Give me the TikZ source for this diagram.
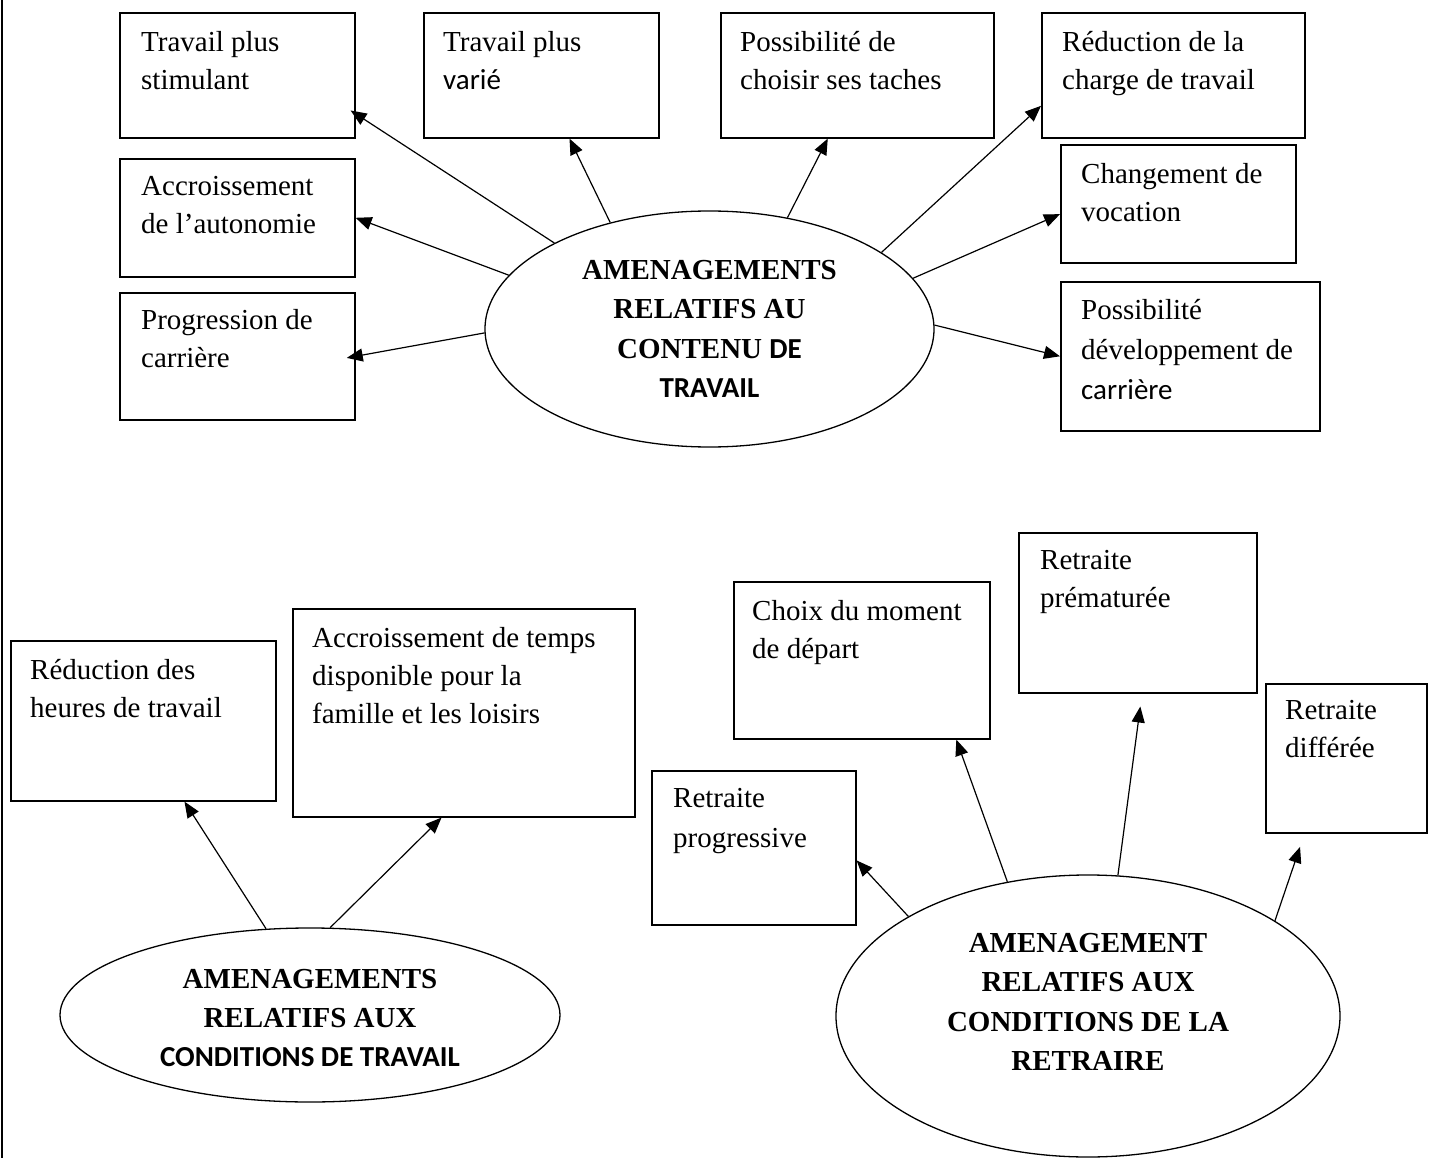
\documentclass[tikz,border=0pt]{standalone}
\usepackage{fontspec}
\setmainfont{Liberation Serif}
\newfontfamily\calib{Carlito}
\usetikzlibrary{arrows.meta,shapes.geometric}

\tikzset{
  box/.style={draw, line width=1.6pt, anchor=north west, inner sep=0pt},
  boxtxt/.style={anchor=north west, inner sep=0pt, align=left, yshift=18.6pt,
    font=\fontsize{29}{38}\selectfont, execute at begin node=\strut},
  hub/.style={draw, ellipse, line width=1.3pt, inner sep=0pt},
  hubtxt/.style={align=center, inner sep=0pt, font=\fontsize{29}{39.3}\selectfont\bfseries},
  arr/.style={-{Triangle[length=16pt,width=13pt]}, line width=1.2pt},
}

\begin{document}
\begin{tikzpicture}[x=1pt, y=-1pt]

\useasboundingbox (0,0) rectangle (1433,1158);

% page rule on the left
\draw[line width=2pt] (2,0) -- (2,1158);

% Contenu du travail
\node[hub, minimum width=449pt, minimum height=236pt] (contenu) at (709.5,329) {};
\node[hubtxt] (contenutxt) at (709.5,329) {AMENAGEMENTS\\RELATIFS AU\\CONTENU {\calib DE}\\{\calib TRAVAIL}};

\node[box, minimum width=235pt, minimum height=125pt] (stim) at (119,12) {};
\node[boxtxt] (stimtxt) at (141,50) {Travail plus\\stimulant};
\node[box, minimum width=235pt, minimum height=118pt] (auto) at (119,158) {};
\node[boxtxt] (autotxt) at (141,195) {Accroissement\\de l'autonomie};
\node[box, minimum width=235pt, minimum height=127pt] (carr) at (119,292) {};
\node[boxtxt] (carrtxt) at (141,328) {Progression de\\carrière};
\node[box, minimum width=235pt, minimum height=125pt] (varie) at (423,12) {};
\node[boxtxt] (varietxt) at (443,50) {Travail plus\\{\calib varié}};
\node[box, minimum width=273pt, minimum height=125pt] (choix) at (720,12) {};
\node[boxtxt] (choixtxt) at (740,50) {Possibilité de\\choisir ses taches};
\node[box, minimum width=263pt, minimum height=125pt] (charge) at (1041,12) {};
\node[boxtxt] (chargetxt) at (1062,50) {Réduction de la\\charge de travail};
\node[box, minimum width=235pt, minimum height=118pt] (vocat) at (1060,144) {};
\node[boxtxt] (vocattxt) at (1081,182) {Changement de\\vocation};
\node[box, minimum width=259pt, minimum height=149pt] (devel) at (1060,281) {};
\node[boxtxt] (develtxt) at (1081,318) {Possibilité\\[2pt]développement de\\[2pt]{\calib carrière}};

\draw[arr, shorten >=-6pt] (contenu.151.9) -- (stim.-18.6);
\draw[arr] (contenu.165.5) -- (auto.east);
\draw[arr, shorten >=-9pt] (contenu.181) -- (carr.east);
\draw[arr] (contenu.133.8) -- (varie.-66.25);
\draw[arr] (contenu.55.4) -- (choix.245.5);
\draw[arr] (contenu.24) -- (charge.193.9);
\draw[arr] (contenu.14.2) -- (vocat.185.8);
\draw[arr] (contenu.1.5) -- (devel.west);

% Conditions de travail
\node[hub, minimum width=500pt, minimum height=174pt] (cond) at (310,1015) {};
\node[hubtxt, font=\fontsize{29}{39}\selectfont\bfseries] (condtxt) at (310,1018) {AMENAGEMENTS\\RELATIFS AUX\\{\calib CONDITIONS DE TRAVAIL}};

\node[box, minimum width=265pt, minimum height=160pt] (heures) at (10,640) {};
\node[boxtxt] (heurestxt) at (30,678) {Réduction des\\heures de travail};
\node[box, minimum width=342pt, minimum height=208pt] (loisirs) at (292,608) {};
\node[boxtxt] (loisirstxt) at (312,646) {Accroissement de temps\\disponible pour la\\famille et les loisirs};

\draw[arr] (cond.117.6) -- (heures.-63.2);
\draw[arr] (cond.77) -- (loisirs.-102.5);

% Conditions de la retraite
\node[hub, minimum width=504pt, minimum height=282pt] (retr) at (1088,1016) {};
\node[hubtxt] (retrtxt) at (1088,1002) {AMENAGEMENT\\RELATIFS AUX\\CONDITIONS DE LA\\RETRAIRE};

\node[box, minimum width=204pt, minimum height=154pt] (progr) at (651,770) {};
\node[boxtxt] (progrtxt) at (673,807) {Retraite\\[2pt]progressive};
\node[box, minimum width=256pt, minimum height=157pt] (depart) at (733,581) {};
\node[boxtxt] (departtxt) at (752,619) {Choix du moment\\de départ};
\node[box, minimum width=238pt, minimum height=160pt] (premat) at (1018,532) {};
\node[boxtxt] (premattxt) at (1040,569) {Retraite\\prématurée};
\node[box, minimum width=161pt, minimum height=149pt] (differ) at (1265,683) {};
\node[boxtxt] (differtxt) at (1285,719) {Retraite\\différée};

\draw[arr] (retr.151.5) -- (progr.-7.3);
\draw[arr] (retr.121) -- (depart.-40.1);
\draw[arr, shorten >=13pt] (retr.78.4) -- (premat.-87.1);
\draw[arr, shorten >=14pt] (retr.27) -- (differ.241.8);

\end{tikzpicture}
\end{document}
